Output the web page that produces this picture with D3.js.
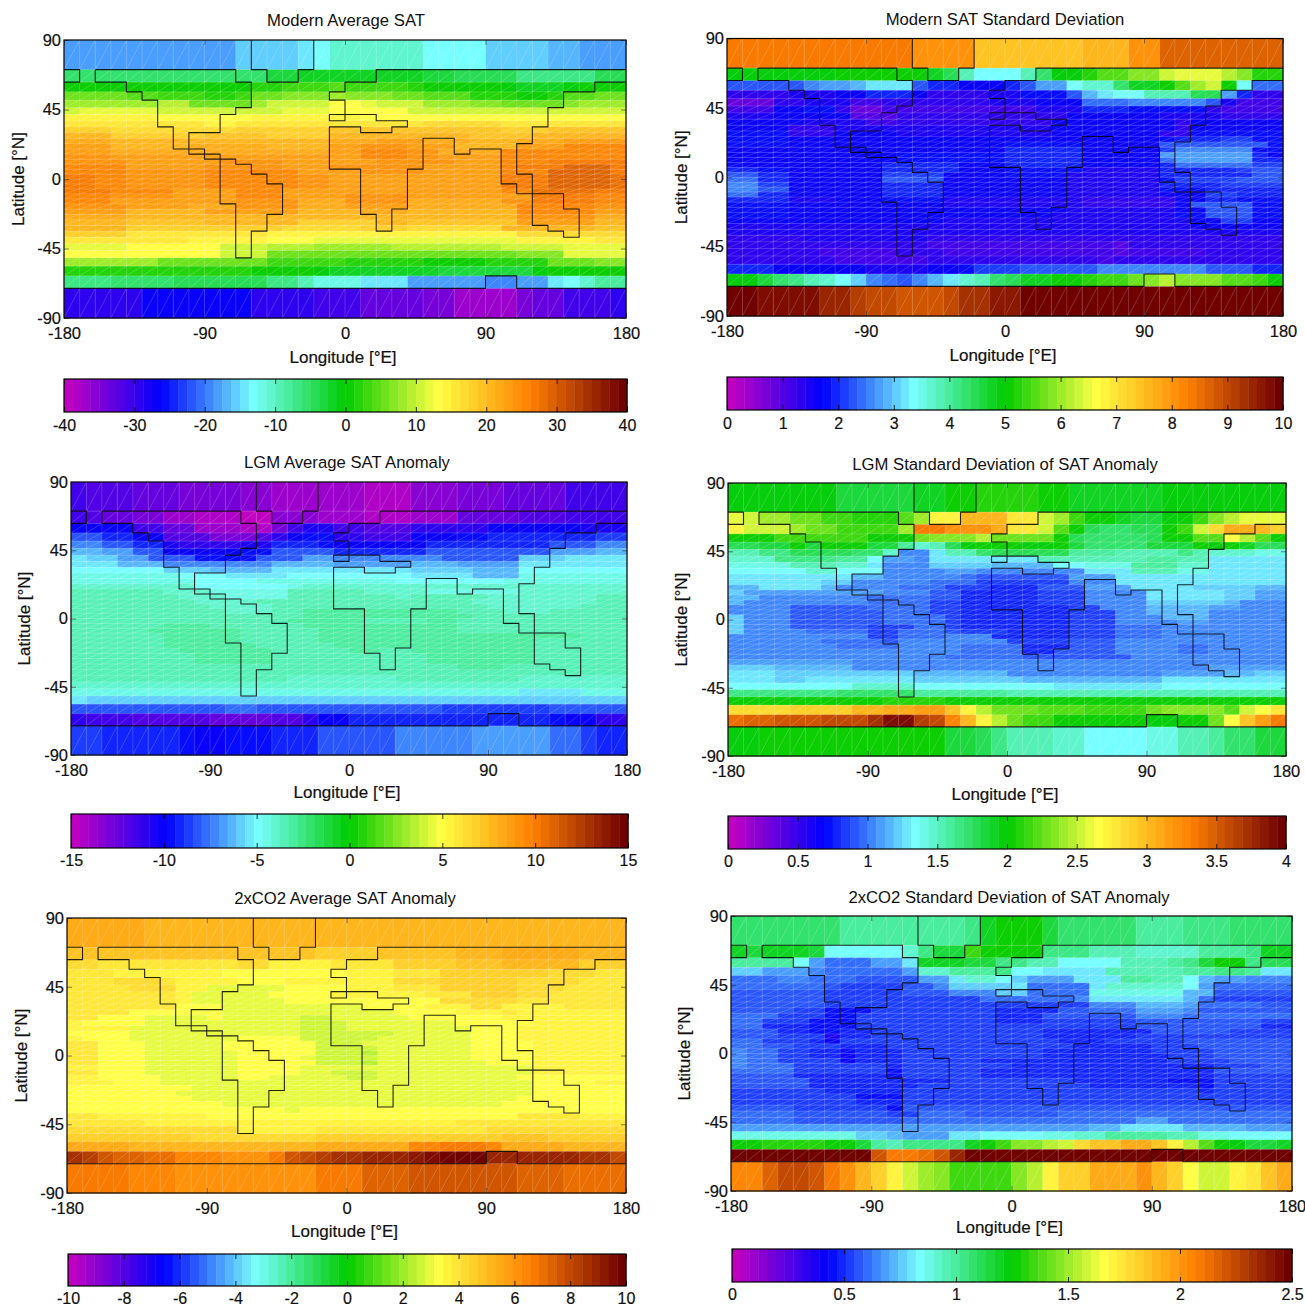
<!DOCTYPE html>
<html>
<head>
<meta charset="utf-8">
<script src="https://cdn.jsdelivr.net/npm/d3@7"></script>
<style>
  body { margin: 0; background: #fff; }
  text { font-family: "Liberation Sans", Arial, sans-serif; fill: #111; }
  .heavy { stroke: #111; stroke-width: 0.2px; }
</style>
</head>
<body>
<svg id="chart" width="1305" height="1308"></svg>
<script>
// every row is value,lastColumn,value,lastColumn... going west to east
// 36 rows (north to south), 36 columns

const modernAvg = [
  [-18,10,-16,14,-14,15,-13,16,-11,22,-13,26,-16,30,-17,32,-18,35],
  [-6,12,-3,14,-1.5,19,-2.5,22,-3,24,-5,28,-7,33,-5,35],
  [1,3,0,7,1,10,0.5,11,2,13,3,16,4,17,3,21,2,22,0.5,24,0,27,-1,28,-2,31,-1,32,0,33,0.5,35],
  [5,3,4,5,3,8,1.5,10,3,11,6,13,7,16,8,17,7,20,6,22,4,25,2,28,1,29,0.5,30,1.5,31,4,33,5,35],
  [8,2,8.5,5,9,7,6,10,6,11,8,12,11,16,13,18,12,19,10,22,8,25,7,27,6,31,7,32,8,35],
  [10,0,12,5,10.5,12,11,13,12,16,13,18,12.5,21,11,25,10,31,11,35],
  [14,1,14.5,5,13.5,9,13,11,14,15,14.5,18,13.5,22,13,25,13.5,30,13,35],
  [16,2,15,8,14,10,15.5,15,16,22,16.5,27,15,30,16,35],
  [18,2,17,10,17.5,16,19,27,17.5,30,19,35],
  [20,2,18.5,5,18,8,19,12,18.5,16,20,25,19,29,21,35],
  [22,2,20,9,20.5,12,20,16,22,19,23,22,22,25,20,28,22,31,23,35],
  [23,2,21,7,21.5,12,21,16,22.5,18,24,21,23,24,21,28,23.5,31,25,35],
  [23.5,2,22,16,23,18,25,21,24,23,22,27,25,31,26,35],
  [24,2,22.5,8,23,13,22.5,16,23.5,18,25,21,24,23,23,27,25.5,31,26,35],
  [24.5,3,23,9,24,13,23,16,23.5,19,24.5,22,24,24,23,27,26,30,27,35],
  [25,3,23.5,8,24.5,13,23,16,24,22,23,27,25.5,28,27,31,29,34,27,35],
  [26,3,24,8,25,14,23.5,18,24,22,23,27,26,30,29,34,27,35],
  [27,1,26,3,24,8,25.5,14,24,16,23.5,27,26.5,30,29.5,34,28,35],
  [27,1,26,3,24,8,25.5,14,24,16,23.5,27,26.5,30,29.5,34,28,35],
  [27,1,26,3,24,8,25.5,14,24,16,23.5,27,26.5,30,29.5,34,28,35],
  [27,2,25,6,23.5,10,25.5,13,23.5,27,25,29,28,33,27,35],
  [26,2,24,6,23,10,25,13,23,17,24,21,23,25,23.5,29,27,33,26,35],
  [25,2,23,10,24.5,14,22,17,24,21,22,27,24,29,27,33,25,35],
  [24,3,22.5,7,22,10,24,14,22,17,23.5,21,22,28,26,33,24,35],
  [23,3,21,8,22.5,14,21,18,22,21,21,28,25,33,23,35],
  [22,3,20,8,21,14,20,18,21,21,20,28,24,33,22,35],
  [21,3,19,8,20,14,18.5,19,20,21,19,28,23,33,21,35],
  [20,3,18,13,17,18,18,21,17,27,21,33,19,35],
  [18,3,16,12,14.5,21,14,28,17,33,17,35],
  [15.5,3,15,7,14,12,13,15,12,28,14,33,16,35],
  [12,3,12.5,9,11,12,9,15,8,20,9,27,10,31,12,35],
  [13,9,10,12,6,20,5,28,7,31,12,35],
  [8,5,6,12,3,17,2,22,0.5,26,2,30,5,33,7,35],
  [2,11,0.5,15,-1,16,-2,23,-3,29,-1,30,0,33,1,35],
  [-7,2,-6,6,-4.5,12,-7,14,-9,15,-12,18,-15,21,-18,26,-20,28,-18,30,-15,31,-13,32,-11,33,-8,35],
  [-29,4,-26.7,11,-29,15,-30.5,18,-33,22,-35,24,-36.5,28,-35,29,-33,31,-31,34,-29,35]
];

const modernStd = [
  [8.3,11,8.1,15,7.4,22,7.6,25,8,27,8.6,35],
  [4.9,6,5.1,11,5,12,4.7,13,4.4,14,3.8,15,3.3,18,3.9,19,4.3,20,4.9,22,5.2,23,5.6,25,5.9,27,6.3,28,6.5,31,6.2,32,5.8,33,5.3,34,5.2,35],
  [2.2,3,2.3,4,2.5,5,2.7,7,2.9,8,3.2,11,2.2,12,1.9,14,1.7,17,2,18,2.2,19,2.8,21,3.3,22,3.7,24,4.3,25,4.7,27,5,28,5.5,29,6,30,6.3,31,5,32,3.4,33,2.4,35],
  [1.3,3,1.5,6,1.7,8,2,11,1.7,12,1.4,16,1.5,18,1.8,21,2.3,22,2.9,23,3.2,24,3.4,26,3.8,29,4.4,31,2.8,32,1.9,33,1.4,35],
  [0.9,2,1.3,4,1.5,7,1.1,9,1.3,11,1.4,16,1.5,19,1.7,22,2.4,25,2.6,27,2.5,30,2.2,31,1.5,32,1.1,35],
  [1.2,2,1.6,4,1.8,6,1.4,7,0.9,9,1.2,13,1.1,16,1.2,19,1.5,22,1.9,25,1.8,30,1.4,31,1.2,35],
  [1.5,2,1.7,4,1.6,7,1,10,1.3,18,1.4,21,1.7,27,1.5,31,1.4,35],
  [1.6,4,1.5,8,1.2,10,1.4,20,1.6,24,1.7,28,1.4,29,1.6,35],
  [1.7,3,1.3,6,1.5,10,1.45,20,1.65,28,1.25,29,1.7,35],
  [1.75,3,1.3,6,1.6,10,1.5,20,1.6,27,1.4,29,1.8,35],
  [1.75,3,1.6,7,1.7,11,1.65,15,1.7,27,1.8,28,1.9,31,2.1,33,1.8,35],
  [1.75,3,1.65,10,1.7,17,1.85,22,1.7,27,2.3,34,1.8,35],
  [1.7,17,1.9,22,1.7,27,2.1,28,2.5,33,1.8,35],
  [1.7,10,1.75,17,1.95,22,1.6,27,2.7,33,2,34,1.7,35],
  [1.65,10,1.75,17,2,22,1.6,27,2.4,28,2.7,33,1.9,35],
  [1.75,0,1.7,3,1.6,9,1.95,14,1.6,17,1.9,22,1.6,27,2,28,2.4,33,2.1,35],
  [2,1,1.75,3,1.6,9,2,14,1.6,17,1.75,22,1.5,27,1.9,32,2.1,33,2.2,35],
  [2.2,1,1.9,3,1.6,9,2.1,13,1.65,17,1.75,21,1.5,27,2,33,2.2,35],
  [2.4,1,2,3,1.65,9,2.2,13,1.6,17,1.7,21,1.5,27,1.8,28,2.1,32,2.2,35],
  [2.6,1,2.1,3,1.65,9,2,13,1.6,21,1.5,27,2,31,2.1,35],
  [2.6,1,2.2,3,1.65,9,2,13,1.6,21,1.5,27,1.8,30,2,35],
  [2.4,1,2,3,1.6,9,1.9,13,1.6,21,1.45,27,1.6,30,2.1,32,1.9,35],
  [2,3,1.55,6,1.65,9,1.8,13,1.55,22,1.4,28,1.6,30,2,32,1.8,35],
  [1.8,3,1.6,6,1.65,9,1.7,13,1.55,22,1.4,28,1.6,29,2.2,33,1.8,35],
  [1.75,3,1.6,9,1.7,13,1.6,21,1.5,28,1.65,30,2.2,33,1.8,35],
  [1.75,3,1.6,10,1.7,13,1.6,20,1.55,28,1.75,30,2.3,33,1.75,35],
  [1.6,8,1.7,13,1.5,29,1.7,31,2.1,33,1.7,35],
  [1.55,12,1.45,22,1.5,29,1.65,33,1.6,35],
  [1.45,6,1.55,11,1.45,30,1.5,35],
  [1.4,4,1.45,9,1.5,12,1.3,17,1.35,23,1.3,28,1.4,35],
  [1.35,3,1.25,8,1.3,12,1.15,19,1.2,24,1,25,1.25,30,1.3,35],
  [1.25,5,1.1,10,1.4,13,1.2,20,1.1,24,0.95,25,1.2,30,1.3,35],
  [1.3,6,1.1,10,1.2,12,1.4,16,1.35,23,1.1,24,1.25,35],
  [1.9,2,1.7,8,1.5,12,1.6,14,1.8,15,2.1,18,2.2,23,2.5,27,2.6,30,2.3,33,2,35],
  [4.9,1,4.6,2,4.3,3,4.1,4,3.9,5,3.7,6,3.3,7,3,8,2.6,9,2.4,10,2.3,11,2.6,12,2.9,13,3.2,14,3.6,15,3.9,16,4.3,17,4.5,18,4.8,20,5,22,5.2,23,5.4,25,5.7,26,5.9,27,6.1,28,5.9,29,5.8,31,5.6,33,5.4,34,5.1,35],
  [9.95,1,9.7,5,9.4,7,9.2,8,9,10,8.9,13,9,14,9.3,16,9.6,18,9.95,35]
];

const lgmAvg = [
  [-11.7,0,-12,3,-12.5,6,-13,10,-13.5,12,-13.7,15,-14,18,-14.3,21,-13.5,24,-13,27,-12.3,31,-11.7,35],
  [-11.5,0,-12,1,-12.5,3,-13,5,-14,7,-14.5,10,-14.7,12,-13.5,15,-13.8,18,-14.5,21,-14,24,-12.5,28,-12,31,-11.7,35],
  [-10,3,-11.5,5,-12.5,7,-14,10,-14.5,12,-13,13,-11.5,14,-10.5,16,-11.5,18,-12,21,-10.8,26,-10,32,-10.5,35],
  [-8.3,1,-9,3,-10,5,-12,8,-13,11,-12,12,-11,13,-10,14,-9.5,16,-10.8,18,-11.3,21,-10.3,24,-9.7,26,-9.2,30,-9,33,-8.5,35],
  [-7.5,1,-8,3,-9,5,-10.5,6,-11,10,-10.7,12,-9,15,-9.5,16,-10,18,-10.2,22,-9.3,26,-9,30,-8,33,-7.5,35],
  [-6.5,1,-7,3,-8,5,-10,10,-9.5,12,-8,16,-9,22,-8,30,-7,33,-6.5,35],
  [-5.5,0,-6,2,-7,4,-8,7,-9.5,11,-8,14,-7,16,-7.5,23,-8,28,-6,31,-5.3,35],
  [-5.3,2,-6.2,5,-7.3,9,-7.5,12,-6.3,16,-6.8,21,-6.3,24,-7,28,-5.2,35],
  [-5,5,-5.7,8,-6.5,12,-5.5,21,-6,25,-6.5,28,-5,35],
  [-4.5,6,-5,9,-5.3,13,-5,21,-5.5,25,-6.2,28,-4.5,35],
  [-4.3,7,-5,11,-4.6,20,-4.8,27,-4.3,35],
  [-4.1,7,-4.8,13,-4.4,14,-3.9,17,-4.2,35],
  [-3.6,5,-4,8,-4.4,13,-3.7,18,-4,22,-4.3,28,-3.9,35],
  [-3.5,6,-4,9,-4.4,13,-3.6,20,-4,21,-3.6,26,-4.1,33,-3.5,35],
  [-3.4,7,-4.2,11,-3.6,20,-3.5,25,-3.9,27,-4.2,33,-3.5,35],
  [-3.4,8,-4,12,-3.6,15,-3.4,21,-3.5,26,-4,32,-3.5,35],
  [-3.4,9,-3.9,12,-3.5,14,-3.2,24,-3.5,27,-4,30,-3.6,35],
  [-3.4,9,-3.7,12,-3.4,14,-3,20,-3.1,25,-3.4,27,-3.6,35],
  [-3.4,10,-3.5,13,-3,18,-3.3,22,-3,24,-3.3,27,-3.5,35],
  [-3.5,5,-3,8,-3.3,10,-3.4,14,-3,24,-3.3,27,-3.5,35],
  [-3.5,4,-3,10,-3.4,15,-3.1,20,-3,24,-3.3,31,-3.5,35],
  [-3.5,5,-3,10,-3.4,15,-3.2,19,-2.9,24,-3,28,-3.2,32,-3.5,35],
  [-3.5,5,-2.9,10,-3.3,11,-3.4,15,-3,29,-3.3,30,-3.5,35],
  [-3.5,5,-3,11,-3.4,16,-3,29,-3.4,35],
  [-3.5,6,-2.9,10,-3,12,-3.4,17,-3,19,-3.4,21,-3,29,-3.4,35],
  [-3.5,7,-3,12,-3.4,22,-3,29,-3.5,35],
  [-3.4,7,-3,12,-3.4,22,-3.1,29,-3.5,35],
  [-3.4,10,-3.5,24,-3,27,-3.6,35],
  [-3.4,13,-3.7,20,-3.4,27,-3.7,35],
  [-3.5,8,-3.3,13,-3.9,20,-3.4,28,-3.9,35],
  [-4.1,35],
  [-4.5,28,-5.6,32,-4.5,35],
  [-5.5,0,-6,35],
  [-8,9,-7.7,11,-8.1,23,-8.8,30,-8.1,35],
  [-11,0,-11.7,3,-12,8,-12.5,12,-12,14,-11,15,-10,17,-9.3,25,-9,28,-9.2,30,-9.7,31,-10,33,-11,35],
  [-8.7,1,-9,3,-9.3,6,-9.7,7,-10,9,-9.6,12,-9,15,-8.2,20,-7.2,25,-7,30,-7.7,32,-8.5,33,-9,35]
];

const lgmStd = [
  [1.95,6,1.85,11,1.9,13,2,15,2.08,19,2,21,1.9,27,1.95,35],
  [2.6,0,2.5,1,2.4,3,2.25,5,2.15,7,2.1,10,2.2,11,2.4,12,2.7,14,3,17,2.75,19,2.55,20,2.4,21,2.15,22,2,24,1.9,25,1.85,27,1.95,28,2.05,29,2.15,30,2.35,31,2.45,32,2.6,35],
  [2.7,0,2.5,3,2.4,4,2.3,6,2.15,10,2.4,11,3.35,13,3.2,16,3.1,17,2.75,19,2.5,20,2.2,21,2,22,1.8,23,1.7,25,1.8,27,2,28,2.15,29,2.5,30,2.85,31,3.1,33,3.05,34,2.9,35],
  [2,2,2.15,8,2.05,11,2.25,12,2.35,15,2.45,16,2.3,17,2.25,20,2.05,21,1.8,22,1.7,26,1.8,27,2,29,2.2,31,2.65,32,2.45,33,2.2,34,2,35],
  [1.75,1,1.85,3,2,4,1.85,5,2,8,1.85,10,1.6,11,1.45,12,1.55,13,1.75,14,1.95,15,2.05,18,1.95,20,2,21,1.85,22,1.7,26,1.85,29,2.05,30,1.95,31,2.05,32,1.9,33,1.75,35],
  [1.55,1,1.65,3,1.75,7,1.7,9,1.45,10,1.05,12,1.3,13,1.5,15,1.7,16,1.8,18,1.75,21,1.6,24,1.55,28,1.65,29,1.55,30,1.45,33,1.4,35],
  [1.45,2,1.65,6,1.6,8,1.35,9,1.1,11,1.05,12,1.25,16,1.3,19,1.5,22,1.55,26,1.6,28,1.55,30,1.3,35],
  [1.4,3,1.55,6,1.45,8,1.3,9,1.05,12,1.2,16,1.15,20,1.35,22,1.4,25,1.6,28,1.45,30,1.3,35],
  [1.35,4,1.45,6,1.35,9,1.05,13,1.1,15,1,22,1.25,25,1.5,28,1.4,30,1.3,35],
  [1.3,6,1.25,7,1.15,9,1,14,0.95,15,0.9,21,1.1,24,1.3,29,1.25,35],
  [1.25,1,1.3,5,1.2,7,1.05,12,0.95,15,0.85,21,1,24,1.3,28,1.25,35],
  [1.15,1,1.25,5,1.15,6,1.05,10,0.95,13,0.85,16,0.75,19,0.9,22,1.1,25,1.25,29,1.2,33,1.15,35],
  [1.2,0,1.1,9,1,12,0.9,14,0.8,16,0.75,19,0.85,22,1.05,26,1.25,31,1.2,33,1.1,35],
  [1.15,1,1.05,4,1,8,0.95,12,0.9,14,0.75,19,0.85,22,1,26,1.25,31,1.2,33,1.1,35],
  [1.15,0,1,8,0.95,12,0.85,14,0.75,19,0.85,22,1,26,1.2,31,1.15,32,1.05,35],
  [1.05,0,1,3,0.9,8,0.95,12,0.85,14,0.75,16,0.8,21,0.85,23,1,26,1.15,30,1.1,32,1.05,35],
  [1.05,3,0.9,9,0.95,12,0.85,14,0.75,16,0.8,21,0.85,24,1,26,1.15,30,1.05,35],
  [1.2,0,1,3,0.9,9,0.95,13,0.85,14,0.75,21,0.85,24,1,27,1.15,30,1.05,35],
  [1.2,0,1,3,0.9,9,0.95,13,0.85,14,0.75,21,0.85,24,1,28,1.1,30,1.05,35],
  [1.2,0,1.05,3,0.9,8,0.85,11,0.95,13,0.85,14,0.75,21,0.85,24,0.95,27,1.05,30,1,33,1.05,35],
  [1.2,0,1.05,4,0.95,8,0.85,10,0.95,13,0.9,14,0.85,17,0.8,21,0.85,24,0.95,27,1,35],
  [1.05,4,1,8,0.85,10,0.95,13,1,16,0.8,21,0.85,24,0.95,27,1,30,1.05,35],
  [1.05,5,0.95,9,0.9,10,1,17,0.85,21,0.9,24,1,35],
  [1.05,6,0.95,10,1,14,0.95,18,0.8,21,0.9,24,1,28,0.95,30,1.05,35],
  [1.05,7,1,10,1.05,14,0.95,18,0.8,20,0.9,24,1,28,0.95,30,1.05,35],
  [1.05,13,0.95,18,0.9,25,1,31,1.05,35],
  [1.1,7,1.05,12,1,25,1.05,35],
  [1.2,2,1.15,7,1.05,16,1,25,1.05,30,1.1,35],
  [1.25,2,1.2,11,1.15,17,1.05,27,1.1,31,1.15,33,1.2,35],
  [1.3,2,1.2,4,1.25,7,1.3,11,1.2,18,1.15,27,1.25,35],
  [1.35,7,1.45,11,1.35,20,1.3,27,1.35,35],
  [1.65,6,1.7,11,1.6,17,1.55,35],
  [2,9,2.1,13,2,35],
  [2.85,3,2.9,7,3,9,3.1,11,3.15,13,2.95,14,2.7,15,2.45,16,2.25,19,2.2,22,2.15,26,2.3,27,2.35,31,2.2,32,2.5,33,2.65,34,2.8,35],
  [3.4,0,3.45,2,3.55,5,3.6,8,3.7,9,3.9,11,3.65,12,3.6,13,3.3,14,3.05,15,2.7,16,2.45,17,2.25,18,2.15,20,2,24,2.05,26,1.95,28,2.05,30,2.25,31,2.65,32,2.95,33,3.15,34,3.35,35],
  [1.95,1,2.05,13,1.85,15,1.75,16,1.65,17,1.55,20,1.45,22,1.35,26,1.4,28,1.5,30,1.6,31,1.7,33,1.85,35]
];

const co2Avg = [
  [5.5,3,5.6,4,5,8,5.1,11,5.2,15,5.3,19,5.2,25,5.3,35],
  [4.8,10,4.7,15,4.6,19,4.9,24,5,27,5.4,32,5,35],
  [4.3,1,3.9,10,4.2,12,3.6,16,3.9,20,4.4,24,4.7,27,5.3,32,4.6,35],
  [3.9,2,3.7,9,3.4,17,3.6,20,4,23,4.4,26,4.6,30,4.2,33,3.9,35],
  [3.9,2,4.2,5,3.9,6,3.5,10,3.4,13,3.5,17,3.7,20,4.2,23,4.6,28,4.2,32,3.8,35],
  [3.8,3,4.2,6,3.6,8,3,13,3.4,17,3.6,20,4,23,4.5,28,4.2,31,3.8,35],
  [3.9,3,4,6,3.5,7,3,12,3.4,16,3.5,22,3.9,25,4.4,28,4.1,30,3.8,35],
  [4,6,3.5,7,3,13,3.3,18,3.4,23,4.1,28,3.8,35],
  [4,3,3.8,6,3.4,9,3,18,3.3,22,3.7,25,4.1,27,3.7,31,3.8,35],
  [4,3,3.4,6,3.3,9,2.95,20,3.3,24,3.5,27,3.9,28,3.6,31,3.7,35],
  [3.9,1,3.4,4,3,8,3.2,9,3,14,2.6,16,2.95,21,3.3,27,3.6,35],
  [3.5,0,3.4,4,2.95,9,3,14,2.6,17,2.95,21,3,24,3.3,29,3.55,35],
  [3.5,3,2.95,14,2.5,17,2.95,21,3,25,3.4,28,3.55,35],
  [3.4,3,2.85,10,3,14,2.5,17,2.6,20,3,25,3.35,28,3.5,35],
  [3.6,0,3.4,3,2.85,9,3,10,3.4,14,2.5,19,2.95,25,3.3,28,3.5,35],
  [3.8,1,3.4,4,2.9,9,3.2,11,3.4,15,2.6,18,3,25,3.3,29,3.5,35],
  [3.8,1,3.4,4,2.9,9,3.2,11,3.4,15,2.6,19,3,25,3.3,29,3.5,35],
  [3.8,1,3.4,4,2.9,10,3.2,13,3.3,15,2.6,18,2.45,19,2.95,25,3.3,29,3.55,35],
  [3.8,1,3.4,4,2.9,10,3.3,14,3.1,15,2.6,19,2.95,25,3.3,29,3.55,35],
  [3.8,1,3.4,4,2.9,10,3.2,13,3.3,15,2.65,18,2.4,19,2.95,26,3.25,29,3.55,35],
  [3.6,1,3.35,4,2.95,10,3.2,14,2.95,26,3.1,29,3.5,35],
  [3.8,1,3.4,4,2.9,10,3.25,14,3,16,2.7,19,2.95,27,3.1,29,3.45,35],
  [3.7,1,3.4,5,2.95,10,3.2,12,3,17,2.7,19,2.95,28,3.3,32,3.4,35],
  [3.5,2,3.4,5,2.95,12,3,19,2.95,29,3.3,33,3.45,35],
  [3.4,7,3,19,2.95,29,3.4,35],
  [3.4,6,3,19,2.95,29,3.4,35],
  [3.4,7,3,18,2.95,28,3.4,35],
  [3.4,9,3.1,13,3,27,3.4,35],
  [3.4,13,3.1,14,3.4,35],
  [3.9,1,3.6,8,3.4,28,3.8,32,3.7,35],
  [3.9,4,3.45,24,3.9,30,3.8,35],
  [4.2,10,3.5,15,3.9,26,4.2,35],
  [4.6,7,4.2,13,4.1,15,4.4,22,4.6,27,4.7,30,4.5,35],
  [5.6,3,5.2,10,5,15,5.5,21,6.3,23,6.7,26,6.3,27,5.6,31,5.3,35],
  [8.5,0,8.2,1,7.5,2,7.3,4,7,6,6.4,9,6,12,6.6,13,7.5,14,8,15,8.3,16,8.6,18,8.9,21,9.2,22,9.5,23,9.9,26,9,27,8.8,32,8.5,34,8,35],
  [6.7,3,6.3,6,6,12,6.2,15,6.7,16,6.8,18,7.2,19,7.4,21,7.7,26,7.6,28,7.4,31,7.1,33,6.9,35]
];

const co2Std = [
  [1.07,6,1,11,0.98,14,1.05,15,1.2,16,1.25,19,1.15,20,1.08,25,1,28,1.05,31,1.08,35],
  [1.18,0,1.15,1,1.2,4,1.15,5,0.85,10,0.93,11,1.05,12,1.15,14,1.35,15,1.25,19,1.05,22,0.95,25,0.9,29,1,32,1.05,33,1.2,35],
  [1,3,0.85,4,0.7,5,0.62,8,0.68,10,0.8,11,1.2,14,1.15,16,1.05,18,0.95,20,0.85,24,0.95,27,1,28,1.03,29,1.15,30,1.25,32,1.05,33,1.1,35],
  [0.75,1,0.68,4,0.65,5,0.6,10,0.68,11,0.93,13,1,16,1.05,17,0.85,19,0.8,23,0.95,28,1,30,1.05,32,1,33,0.8,35],
  [0.62,2,0.65,4,0.59,7,0.55,11,0.7,13,0.8,14,0.9,16,0.85,17,0.75,18,0.7,21,0.8,24,1,26,0.95,28,0.85,29,0.72,30,0.67,32,0.63,35],
  [0.59,5,0.57,6,0.52,10,0.57,12,0.65,13,0.75,17,0.8,18,0.62,22,0.8,23,0.92,28,0.85,29,0.7,30,0.59,35],
  [0.57,5,0.52,10,0.57,13,0.65,16,0.75,18,0.62,22,0.88,28,0.72,30,0.57,35],
  [0.55,5,0.52,15,0.59,21,0.65,22,0.8,28,0.72,29,0.62,30,0.54,35],
  [0.57,5,0.52,13,0.54,22,0.65,25,0.72,28,0.68,29,0.62,30,0.59,33,0.57,35],
  [0.57,3,0.52,5,0.45,8,0.52,16,0.49,20,0.57,22,0.62,25,0.68,28,0.65,29,0.57,35],
  [0.59,2,0.52,5,0.45,7,0.52,16,0.49,19,0.55,22,0.57,25,0.63,28,0.59,35],
  [0.59,1,0.52,4,0.45,7,0.52,16,0.49,19,0.52,22,0.54,25,0.57,33,0.54,35],
  [0.59,1,0.49,4,0.44,7,0.52,25,0.55,33,0.5,35],
  [0.57,2,0.49,4,0.44,6,0.47,8,0.53,16,0.52,19,0.5,26,0.55,31,0.52,35],
  [0.57,2,0.51,5,0.38,6,0.47,8,0.53,16,0.52,19,0.49,25,0.54,35],
  [0.59,1,0.53,4,0.47,5,0.4,6,0.53,20,0.49,23,0.53,28,0.57,35],
  [0.62,1,0.57,3,0.51,6,0.49,9,0.52,16,0.53,21,0.49,26,0.53,29,0.57,35],
  [0.65,0,0.62,2,0.52,4,0.49,6,0.43,7,0.49,10,0.52,16,0.54,19,0.48,26,0.52,30,0.57,35],
  [0.65,0,0.62,2,0.52,4,0.5,6,0.4,7,0.49,10,0.52,19,0.49,21,0.47,27,0.52,30,0.57,35],
  [0.65,0,0.62,2,0.52,6,0.42,7,0.49,10,0.52,15,0.5,19,0.47,27,0.51,31,0.57,35],
  [0.64,0,0.59,3,0.51,9,0.47,10,0.52,17,0.49,20,0.48,30,0.53,33,0.57,35],
  [0.59,3,0.51,9,0.45,10,0.52,15,0.5,19,0.49,30,0.55,35],
  [0.57,3,0.49,9,0.44,10,0.52,15,0.5,21,0.49,28,0.47,30,0.54,35],
  [0.57,4,0.47,9,0.5,13,0.51,21,0.5,27,0.44,30,0.54,35],
  [0.57,4,0.49,8,0.47,11,0.53,16,0.52,22,0.5,29,0.45,30,0.54,35],
  [0.54,5,0.49,10,0.53,15,0.52,29,0.49,30,0.54,35],
  [0.53,5,0.51,7,0.44,10,0.53,15,0.51,22,0.52,29,0.54,35],
  [0.54,5,0.52,7,0.47,10,0.52,15,0.53,35],
  [0.57,3,0.54,9,0.45,10,0.55,14,0.57,35],
  [0.59,3,0.55,9,0.52,11,0.59,14,0.57,20,0.59,35],
  [0.6,3,0.58,10,0.6,20,0.62,25,0.68,27,0.62,35],
  [0.7,4,0.68,22,0.74,24,0.8,28,0.72,32,0.7,35],
  [0.87,7,0.75,9,0.72,10,0.68,13,0.8,15,0.85,19,0.87,21,0.9,23,1,27,0.95,29,0.87,31,0.85,35],
  [1.25,1,1.3,5,1.25,7,1.15,8,1,9,0.95,10,1.03,14,1.2,15,1.27,16,1.35,17,1.45,19,1.55,20,1.6,21,1.78,22,1.85,24,1.95,26,1.85,27,1.7,28,1.55,29,1.4,30,1.25,31,1.22,32,1.15,34,1.2,35],
  [2.5,8,2.2,9,2.08,11,2.12,12,2.2,13,2.35,14,2.5,35],
  [2.05,1,2.15,2,2.25,4,2.2,5,2.08,6,2,7,1.9,8,1.8,9,1.7,10,1.6,11,1.5,12,1.45,13,1.35,17,1.45,18,1.55,19,1.68,20,1.8,22,1.95,25,2,26,1.9,27,1.8,28,1.65,29,1.6,31,1.68,32,1.75,33,1.85,34,1.95,35]
];

// coastline steps as [column, row edge]
const americas = [[2,1],[2,2],[4,2],[4,3],[5,3],[5,4],[6,4],[6,8],[7,8],[7,12],[9,12],[9,14],[11,14],[11,15],[12,15],[12,17],[13,17],[13,19],[14,19],[14,25],[13,25],[13,28],[12,28],[12,32],[11,32],[11,23],[10,23],[10,13],[8,13],[8,9],[10,9],[10,6],[11,6],[11,5],[12,5],[12,2],[11,2],[11,1],[2,1]];
const greenland = [[12,0],[12,1],[13,1],[13,2],[15,2],[15,1],[16,1],[16,0]];
const siberiaTip = [[0,1],[1,1],[1,2],[0,2]];
const eurasia = [[36,1],[20,1],[20,2],[18,2],[18,3],[17,3],[17,4],[18,4],[18,7],[17,7],[17,6],[20,6],[20,7],[22,7],[22,8],[21,8],[21,9],[19,9],[19,8],[17,8],[17,16],[19,16],[19,25],[20,25],[20,28],[21,28],[21,24],[22,24],[22,16],[23,16],[23,10],[25,10],[25,13],[26,13],[26,12],[28,12],[28,19],[29,19],[29,21],[32,21],[32,24],[33,24],[33,29],[32,29],[32,28],[31,28],[31,27],[30,27],[30,17],[29,17],[29,11],[30,11],[30,8],[31,8],[31,5],[32,5],[32,3],[34,3],[34,2],[36,2]];
const antarctica = [[0,35],[27,35],[27,34],[29,34],[29,35],[36,35]];
const coasts = [americas, greenland, siberiaTip, eurasia, antarctica];

const lonTicks = [-180, -90, 0, 90, 180];
const latTicks = [-90, -45, 0, 45, 90];

const panels = [
  { title: 'Modern Average SAT', rows: modernAvg, range: [-40, 40], barTicks: d3.range(-40, 41, 10), barPad: 8,
    x: [64, 626], y: [40, 318], bar: [64, 627, 379, 412], titleAt: [346, 26], xlabY: 363, ylabX: 24 },
  { title: 'Modern SAT Standard Deviation', rows: modernStd, range: [0, 10], barTicks: d3.range(0, 11, 1), barPad: 8,
    x: [727, 1283], y: [38.5, 316], bar: [727, 1283, 377, 410], titleAt: [1005, 25], xlabY: 361, ylabX: 687 },
  { title: 'LGM Average SAT Anomaly', rows: lgmAvg, range: [-15, 15], barTicks: d3.range(-15, 16, 5), barPad: 7,
    x: [71, 627], y: [482, 755], bar: [71, 628, 814, 848], titleAt: [347, 468], xlabY: 798, ylabX: 30 },
  { title: 'LGM Standard Deviation of SAT Anomaly', rows: lgmStd, range: [0, 4], barTicks: d3.range(0, 4.1, 0.5), barPad: 7,
    x: [728, 1286], y: [483, 756], bar: [728, 1286, 816, 849], titleAt: [1005, 470], xlabY: 800, ylabX: 687 },
  { title: '2xCO2 Average SAT Anomaly', rows: co2Avg, range: [-10, 10], barTicks: d3.range(-10, 11, 2), barPad: 6.5,
    x: [67, 626], y: [918, 1193], bar: [68, 626, 1254, 1286], titleAt: [345, 904], xlabY: 1237, ylabX: 27 },
  { title: '2xCO2 Standard Deviation of SAT Anomaly', rows: co2Std, range: [0, 2.5], barTicks: d3.range(0, 2.6, 0.5), barPad: 7,
    x: [731, 1292], y: [916, 1191], bar: [732, 1292, 1249, 1282], titleAt: [1009, 903], xlabY: 1233, ylabX: 690 }
];

// colormap: 64 flat steps along this ramp
const rampColors = ['#c000c0', '#0000ff', '#77ffff', '#00cc00', '#ffff44', '#ff8000', '#700000'];
const ramp = d3.scaleLinear().domain(d3.range(7).map(i => i / 6)).range(rampColors);
const steps = d3.range(64).map(i => ramp(i / 63));

// grid is equal area: rows are even in sin(lat), columns are 10 degrees
const lonEdges = d3.range(37).map(c => -180 + c * 10);
const latEdges = d3.range(37).map(k => Math.asin(1 - k / 18) * 180 / Math.PI);

function expandRow(row) {
  const out = [];
  for (let i = 0; i < row.length; i += 2) {
    while (out.length <= row[i + 1]) out.push(row[i]);
  }
  return out;
}

// plain hyphen on the negatives, like the original
const plainLabel = d => String(+d.toFixed(2));

const svg = d3.select('#chart');

function drawPanel(p) {
  const x = d3.scaleLinear().domain([-180, 180]).range(p.x);
  const y = d3.scaleLinear().domain([90, -90]).range(p.y);
  const color = d3.scaleQuantize().domain(p.range).range(steps);
  const g = svg.append('g');

  const cells = [];
  p.rows.forEach((row, k) => {
    expandRow(row).forEach((v, c) => cells.push({ c, k, v }));
  });

  g.selectAll('rect.cell')
    .data(cells)
    .enter().append('rect')
    .attr('class', 'cell')
    .attr('x', d => x(lonEdges[d.c]))
    .attr('y', d => y(latEdges[d.k]))
    .attr('width', d => x(lonEdges[d.c + 1]) - x(lonEdges[d.c]) + 0.4)
    .attr('height', d => y(latEdges[d.k + 1]) - y(latEdges[d.k]) + 0.4)
    .attr('fill', d => color(d.v));

  // the faint seams of the patch triangles
  const seam = d3.path();
  lonEdges.forEach(lon => { seam.moveTo(x(lon), p.y[0]); seam.lineTo(x(lon), p.y[1]); });
  latEdges.forEach(lat => { seam.moveTo(p.x[0], y(lat)); seam.lineTo(p.x[1], y(lat)); });
  cells.forEach(d => {
    seam.moveTo(x(lonEdges[d.c]), y(latEdges[d.k + 1]));
    seam.lineTo(x(lonEdges[d.c + 1]), y(latEdges[d.k]));
  });
  g.append('path')
    .attr('d', seam.toString())
    .attr('fill', 'none')
    .attr('stroke', '#fff')
    .attr('stroke-opacity', 0.25)
    .attr('stroke-width', 0.7);

  const coastLine = d3.line()
    .x(d => x(lonEdges[d[0]]))
    .y(d => y(latEdges[d[1]]));
  g.selectAll('path.coast')
    .data(coasts)
    .enter().append('path')
    .attr('class', 'coast')
    .attr('d', coastLine)
    .attr('fill', 'none')
    .attr('stroke', '#000')
    .attr('stroke-opacity', 0.85)
    .attr('stroke-width', 1.1);

  // axes
  const axes = [
    [d3.axisBottom(x).tickValues(lonTicks).tickPadding(9), `translate(0,${p.y[1]})`, true],
    [d3.axisTop(x).tickValues(lonTicks), `translate(0,${p.y[0]})`, false],
    [d3.axisLeft(y).tickValues(latTicks).tickPadding(3), `translate(${p.x[0]},0)`, true],
    [d3.axisRight(y).tickValues(latTicks), `translate(${p.x[1]},0)`, false]
  ];
  axes.forEach(([axis, tr, labels]) => {
    const a = g.append('g').attr('transform', tr)
      .call(axis.tickSize(-5).tickFormat(labels ? plainLabel : ''));
    a.select('.domain').remove();
    a.selectAll('line').attr('stroke', '#333').attr('stroke-opacity', 0.6);
    a.selectAll('text').attr('class', 'heavy').attr('font-size', 16.5).attr('font-family', null);
  });

  g.append('rect')
    .attr('x', p.x[0]).attr('y', p.y[0])
    .attr('width', p.x[1] - p.x[0]).attr('height', p.y[1] - p.y[0])
    .attr('fill', 'none').attr('stroke', '#000').attr('stroke-width', 1.2);

  g.append('text')
    .attr('x', p.titleAt[0]).attr('y', p.titleAt[1])
    .attr('text-anchor', 'middle').attr('font-size', 16.7)
    .text(p.title);

  g.append('text')
    .attr('class', 'heavy')
    .attr('x', (p.x[0] + p.x[1]) / 2 - 2).attr('y', p.xlabY)
    .attr('text-anchor', 'middle').attr('font-size', 17)
    .text('Longitude [°E]');

  g.append('text')
    .attr('class', 'heavy')
    .attr('transform', `translate(${p.ylabX},${(p.y[0] + p.y[1]) / 2}) rotate(-90)`)
    .attr('text-anchor', 'middle').attr('font-size', 17)
    .text('Latitude [°N]');

  drawBar(p, g);
}

function drawBar(p, g) {
  const [x0, x1, y0, y1] = p.bar;
  const bx = d3.scaleLinear().domain(p.range).range([x0, x1]);
  const band = d3.scaleBand().domain(d3.range(64)).range([x0, x1]);

  g.selectAll('rect.step')
    .data(steps)
    .enter().append('rect')
    .attr('class', 'step')
    .attr('x', (d, i) => band(i))
    .attr('y', y0)
    .attr('width', band.bandwidth() + 0.4)
    .attr('height', y1 - y0)
    .attr('fill', d => d);

  const bottom = g.append('g').attr('transform', `translate(0,${y1})`)
    .call(d3.axisBottom(bx).tickValues(p.barTicks).tickSize(-5).tickPadding(p.barPad).tickFormat(plainLabel));
  const top = g.append('g').attr('transform', `translate(0,${y0})`)
    .call(d3.axisTop(bx).tickValues(p.barTicks).tickSize(-5).tickFormat(''));
  [bottom, top].forEach(a => {
    a.select('.domain').remove();
    a.selectAll('line').attr('stroke', '#000').attr('stroke-width', 0.8);
    a.selectAll('text').attr('class', 'heavy').attr('font-size', 16).attr('font-family', null);
  });

  g.append('rect')
    .attr('x', x0).attr('y', y0)
    .attr('width', x1 - x0).attr('height', y1 - y0)
    .attr('fill', 'none').attr('stroke', '#000').attr('stroke-width', 1.2);
}

panels.forEach(drawPanel);
</script>
</body>
</html>
